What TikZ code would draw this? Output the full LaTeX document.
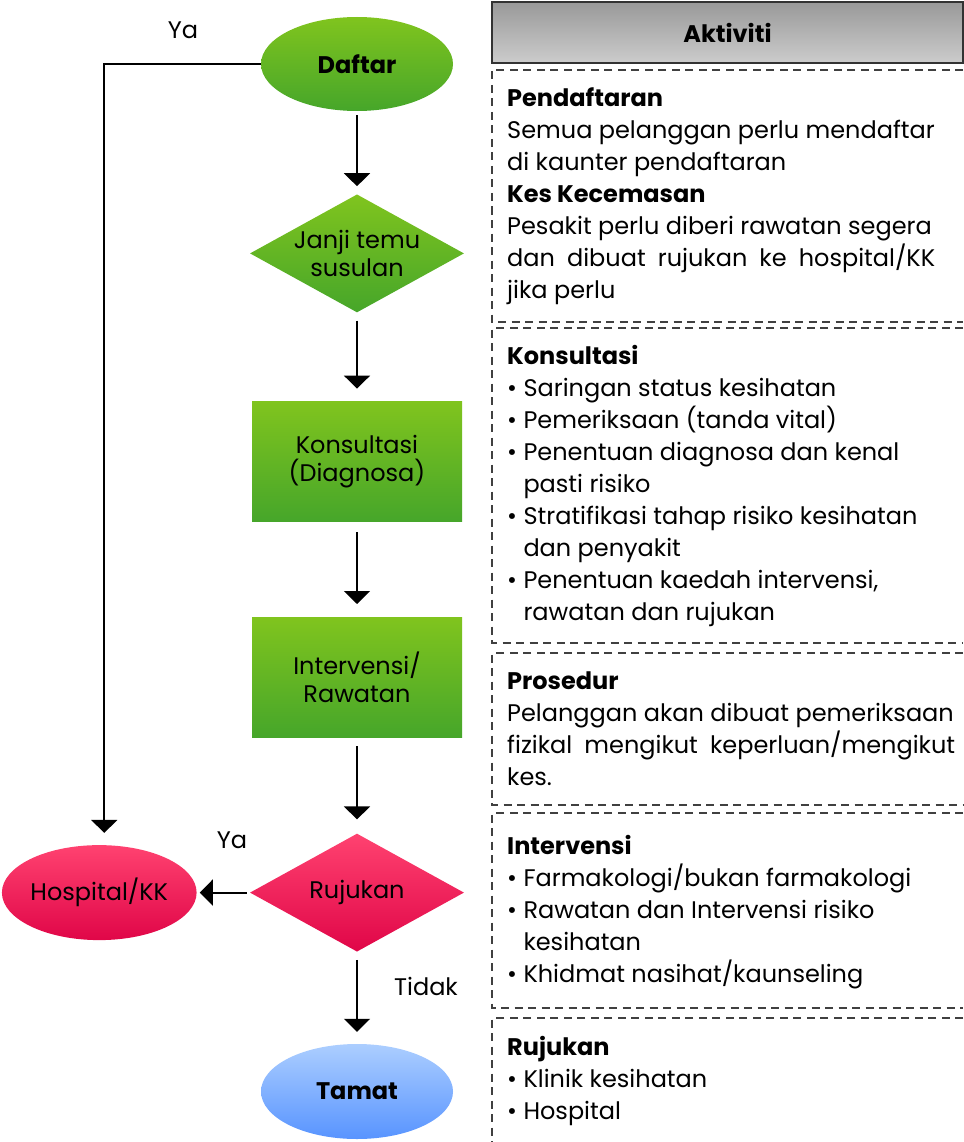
\documentclass[tikz,border=0pt]{standalone}
\usepackage{fontspec}
\setmainfont{Poppins}
\usepackage{tikz}
\usetikzlibrary{positioning}
\usetikzlibrary{shapes.geometric}
\usetikzlibrary{arrows.meta}

\definecolor{greentop}{RGB}{128,196,30}
\definecolor{greenbot}{RGB}{70,166,42}
\definecolor{redtop}{RGB}{255,66,112}
\definecolor{redbot}{RGB}{224,6,72}
\definecolor{bluetop}{RGB}{172,206,255}
\definecolor{bluebot}{RGB}{88,148,255}

\newcommand{\itm}{\textbullet\ }
\newcommand{\cont}{\phantom{\textbullet\ }}

\begin{document}
\begin{tikzpicture}[
    x=1pt, y=-1pt,
    font=\fontsize{24}{28}\selectfont,
    greenoval/.style={ellipse, top color=greentop, bottom color=greenbot, minimum width=192pt, minimum height=94pt, inner sep=0pt},
    blueoval/.style={ellipse, top color=bluetop, bottom color=bluebot, minimum width=192pt, minimum height=95pt, inner sep=0pt},
    redoval/.style={ellipse, top color=redtop, bottom color=redbot, minimum width=191pt, minimum height=95pt, inner sep=0pt},
    greendiamond/.style={diamond, top color=greentop, bottom color=greenbot, minimum width=214pt, minimum height=118pt, inner sep=-30pt, align=center},
    reddiamond/.style={diamond, top color=redtop, bottom color=redbot, minimum width=214pt, minimum height=118pt, inner sep=-30pt},
    greenbox/.style={rectangle, top color=greentop, bottom color=greenbot, minimum width=210pt, minimum height=120pt, align=center},
    headbox/.style={rectangle, draw=black!80, line width=1.2pt, top color=black!40, bottom color=black!20, minimum width=471pt, minimum height=61pt},
    sect/.style={draw=black!75, line width=1.3pt, dash pattern=on 8pt off 5.5pt},
    activity/.style={anchor=north west, align=left, inner sep=0pt, font=\fontsize{24}{32}\selectfont, execute at begin node=\strut},
    flow/.style={line width=1.8pt, -{Triangle[width=26pt,length=13pt]}},
]
\useasboundingbox (0,0) rectangle (963,1142);

%Nodes
\node[greenoval]    (daftar)     at (357,64)                 {\textbf{Daftar}};
\node[greendiamond] (janji)      [below=83pt of daftar]      {Janji temu\\susulan};
\node[greenbox]     (konsultasi) [below=89pt of janji]       {Konsultasi\\(Diagnosa)};
\node[greenbox]     (intervensi) [below=95pt of konsultasi]  {Intervensi/\\Rawatan};
\node[reddiamond]   (rujukan)    [below=96pt of intervensi]  {Rujukan};
\node[blueoval]     (tamat)      [below=92pt of rujukan]     {\textbf{Tamat}};
\node[redoval]      (hospital)   [left=53pt of rujukan]      {Hospital/KK};

\node (ya_1)  at (183,30)  {Ya};
\node (ya_2)  at (232,840) {Ya};
\node (tidak) at (426,986) {Tidak};

%Lines
\draw[flow, shorten <=4pt, shorten >=8pt]   (daftar.south)     -- (janji.north);
\draw[flow, shorten <=8pt, shorten >=13pt]  (janji.south)      -- (konsultasi.north);
\draw[flow, shorten <=10pt, shorten >=13pt] (konsultasi.south) -- (intervensi.north);
\draw[flow, shorten <=9pt, shorten >=14pt]  (intervensi.south) -- (rujukan.north);
\draw[flow, shorten <=8pt, shorten >=12pt]  (rujukan.south)    -- (tamat.north);
\draw[flow, shorten <=3pt, shorten >=3pt]   (rujukan.west)     -- (hospital.east);
\draw[flow, shorten >=12pt] (daftar.west) -| ([xshift=5pt]hospital.north);

%Activity column
\node[headbox] (aktiviti) at (727.5,32.5) {\textbf{Aktiviti}};

\draw[sect] (963,70)   -| (492,322) -- (963,322);
\draw[sect] (963,328)  -| (492,643) -- (963,643);
\draw[sect] (963,653)  -| (492,805) -- (963,805);
\draw[sect] (963,813)  -| (492,1008) -- (963,1008);
\draw[sect] (963,1018) -| (492,1142);

\node[activity] (pendaftaran) at (507,87.6) {\textbf{Pendaftaran}\\
  Semua pelanggan perlu mendaftar\\
  di kaunter pendaftaran\\
  \textbf{Kes Kecemasan}\\
  Pesakit perlu diberi rawatan segera\\
  \makebox[428pt][s]{dan dibuat rujukan ke hospital/KK}\\
  jika perlu};
\node[activity] (konsul) at (507,344.6) {\textbf{Konsultasi}\\
  \itm Saringan status kesihatan\\
  \itm Pemeriksaan (tanda vital)\\
  \itm Penentuan diagnosa dan kenal\\
  \cont pasti risiko\\
  \itm Stratifikasi tahap risiko kesihatan\\
  \cont dan penyakit\\
  \itm Penentuan kaedah intervensi,\\
  \cont rawatan dan rujukan};
\node[activity] (prosedur) at (507,671.6) {\textbf{Prosedur}\\
  Pelanggan akan dibuat pemeriksaan\\
  \makebox[448pt][s]{fizikal mengikut keperluan/mengikut}\\
  kes.};
\node[activity] (interv) at (507,834.6) {\textbf{Intervensi}\\
  \itm Farmakologi/bukan farmakologi\\
  \itm Rawatan dan Intervensi risiko\\
  \cont kesihatan\\
  \itm Khidmat nasihat/kaunseling};
\node[activity] (rujuk) at (507,1035.6) {\textbf{Rujukan}\\
  \itm Klinik kesihatan\\
  \itm Hospital};
\end{tikzpicture}
\end{document}
